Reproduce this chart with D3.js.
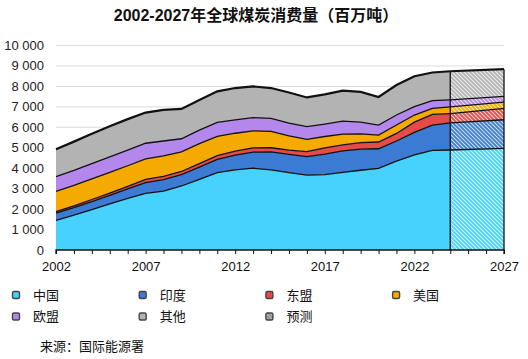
<!DOCTYPE html>
<html>
<head>
<meta charset="utf-8">
<script src="https://cdn.jsdelivr.net/npm/d3@7"></script>
<style>
  body { margin: 0; background: #fff; }
  text { font-family: "Liberation Sans", Arial, "Noto Sans CJK SC", sans-serif; }
</style>
</head>
<body>
<script>
let width = 528;
let height = 359;

// history 2002-2024, forecast block to 2027
let years = [2002, 2003, 2004, 2005, 2006, 2007, 2008, 2009, 2010, 2011, 2012, 2013,
             2014, 2015, 2016, 2017, 2018, 2019, 2020, 2021, 2022, 2023, 2024];
let china = [1450, 1700, 1980, 2250, 2530, 2770, 2880, 3130, 3450, 3780, 3920, 4000,
             3920, 3780, 3660, 3690, 3800, 3900, 3990, 4350, 4650, 4870, 4890];
let india = [350, 370, 390, 420, 460, 530, 560, 560, 600, 650, 720, 790,
             880, 900, 910, 1000, 1050, 1030, 960, 980, 1100, 1240, 1330];
let asean = [80, 90, 100, 110, 120, 150, 160, 150, 170, 180, 190, 200,
             200, 200, 240, 300, 290, 320, 330, 370, 500, 520, 450];
let usa = [990, 1000, 1010, 1020, 1010, 1010, 1000, 960, 980, 950, 880, 840,
           800, 700, 600, 560, 530, 430, 340, 410, 350, 300, 330];
let eu = [720, 730, 740, 750, 760, 760, 730, 640, 660, 680, 650, 640,
          640, 620, 620, 610, 630, 570, 490, 490, 410, 370, 340];
let other = [1340, 1410, 1460, 1500, 1520, 1500, 1520, 1460, 1470, 1520, 1560, 1530,
             1480, 1500, 1430, 1450, 1490, 1480, 1370, 1470, 1490, 1380, 1400];

let forecastYear = 2027;
let forecast = [4970, 1400, 560, 300, 280, 1330]; // same order as keys

let keys = ['中国', '印度', '东盟', '美国', '欧盟', '其他'];
let colors = ['#46d2fc', '#3b7bd4', '#e84a4a', '#f4aa00', '#b487ec', '#b3b3b3'];
let yTicks = [0, 1000, 2000, 3000, 4000, 5000, 6000, 7000, 8000, 9000, 10000];
let xLabels = [2002, 2007, 2012, 2017, 2022, 2027];

let series = [china, india, asean, usa, eu, other];
let rows = years.map(function(yr, i) {
    let r = { year: yr };
    keys.forEach(function(k, j) { r[k] = series[j][i]; });
    return r;
});
let fcRows = [Object.assign({}, rows[rows.length - 1]), { year: forecastYear }];
keys.forEach(function(k, j) { fcRows[1][k] = forecast[j]; });

let svg = d3.select('body').append('svg')
    .attr('width', width)
    .attr('height', height);

// hatch patterns
let defs = svg.append('defs');
colors.concat(['#7a7a7a']).forEach(function(c, i) {
    let p = defs.append('pattern')
        .attr('id', 'hatch' + i)
        .attr('patternUnits', 'userSpaceOnUse')
        .attr('width', 4)
        .attr('height', 4);
    p.append('rect').attr('width', 4).attr('height', 4).attr('fill', c);
    p.append('path')
        .attr('d', 'M0,0 L4,4 M-1,3 L1,5 M3,-1 L5,1')
        .attr('stroke', '#fff')
        .attr('stroke-width', 1.1)
        .attr('stroke-opacity', 0.75);
});

let xScale = d3.scaleLinear().domain([2002, 2027]).range([56, 504]);
let yScale = d3.scaleLinear().domain([0, 10000]).range([250, 45.5]);

// title
svg.append('text')
    .attr('x', 256)
    .attr('y', 21)
    .attr('text-anchor', 'middle')
    .attr('font-size', 16)
    .attr('font-weight', 'bold')
    .attr('fill', '#111')
    .text('2002-2027年全球煤炭消费量（百万吨）');

// gridlines
svg.append('g').selectAll('line')
    .data(yTicks.slice(1))
    .enter()
    .append('line')
    .attr('x1', xScale(2002))
    .attr('x2', xScale(2027))
    .attr('y1', function(d) { return yScale(d); })
    .attr('y2', function(d) { return yScale(d); })
    .attr('stroke', '#dcdcdc')
    .attr('stroke-width', 1);

// y labels
svg.append('g').selectAll('text')
    .data(yTicks)
    .enter()
    .append('text')
    .attr('x', 44)
    .attr('y', function(d) { return yScale(d) + 4.5; })
    .attr('text-anchor', 'end')
    .attr('font-size', 13)
    .attr('fill', '#222')
    .text(function(d) { return d3.format(',')(d).replace(',', ' '); });

let stack = d3.stack().keys(keys);
let stacked = stack(rows);
let fcStacked = stack(fcRows);

let area = d3.area()
    .x(function(d) { return xScale(d.data.year); })
    .y0(function(d) { return yScale(d[0]); })
    .y1(function(d) { return yScale(d[1]); });

let line = d3.line()
    .x(function(d) { return xScale(d.data.year); })
    .y(function(d) { return yScale(d[1]); });

svg.append('g').selectAll('path')
    .data(stacked)
    .enter()
    .append('path')
    .attr('d', area)
    .attr('fill', function(d, i) { return colors[i]; });

svg.append('g').selectAll('path')
    .data(fcStacked)
    .enter()
    .append('path')
    .attr('d', area)
    .attr('fill', function(d, i) { return 'url(#hatch' + i + ')'; });

// boundary lines
svg.append('g').selectAll('path')
    .data(stacked.concat(fcStacked))
    .enter()
    .append('path')
    .attr('d', line)
    .attr('fill', 'none')
    .attr('stroke', '#111')
    .attr('stroke-width', function(d, i) { return d.index === keys.length - 1 ? 2.2 : 1.3; });

// forecast frame
let top0 = fcStacked[keys.length - 1][0][1];
let top1 = fcStacked[keys.length - 1][1][1];
svg.append('line')
    .attr('x1', xScale(2024)).attr('x2', xScale(2024))
    .attr('y1', yScale(top0)).attr('y2', yScale(0))
    .attr('stroke', '#111').attr('stroke-width', 1.3);
svg.append('line')
    .attr('x1', xScale(2027)).attr('x2', xScale(2027))
    .attr('y1', yScale(top1)).attr('y2', yScale(0))
    .attr('stroke', '#111').attr('stroke-width', 1.3);

// x axis
let xAxis = d3.axisBottom(xScale)
    .tickValues(d3.range(2002, 2028))
    .tickSize(4)
    .tickFormat(function(d) { return xLabels.indexOf(d) >= 0 ? d : ''; });
let gx = svg.append('g')
    .attr('transform', 'translate(0,' + yScale(0) + ')')
    .call(xAxis);
gx.select('.domain').attr('stroke', '#111').attr('stroke-width', 1.3).attr('d', 'M' + xScale(2002) + ',4V0H' + xScale(2027) + 'V4');
gx.selectAll('.tick line').attr('stroke', '#111');
gx.selectAll('.tick text')
    .attr('font-size', 13)
    .attr('fill', '#111')
    .attr('dy', '1.05em')
    .attr('font-family', '"Liberation Sans", Arial, sans-serif');

// legend
let legendItems = keys.concat(['预测']);
let legend = svg.append('g').selectAll('g')
    .data(legendItems)
    .enter()
    .append('g')
    .attr('transform', function(d, i) {
        return 'translate(' + (16 + (i % 4) * 126.7) + ',' + (295 + Math.floor(i / 4) * 21.5) + ')';
    });
legend.append('rect')
    .attr('x', -3.5)
    .attr('y', -3.5)
    .attr('width', 7)
    .attr('height', 7)
    .attr('rx', 1.5)
    .attr('fill', function(d, i) { return i < keys.length ? colors[i] : 'url(#hatch6)'; })
    .attr('stroke', '#444')
    .attr('stroke-width', 1.4);
legend.append('text')
    .attr('x', 17)
    .attr('y', 4.5)
    .attr('font-size', 13)
    .attr('fill', '#111')
    .text(function(d) { return d; });

// source
svg.append('text')
    .attr('x', 40)
    .attr('y', 351)
    .attr('font-size', 13)
    .attr('fill', '#111')
    .text('来源：国际能源署');
</script>
</body>
</html>
